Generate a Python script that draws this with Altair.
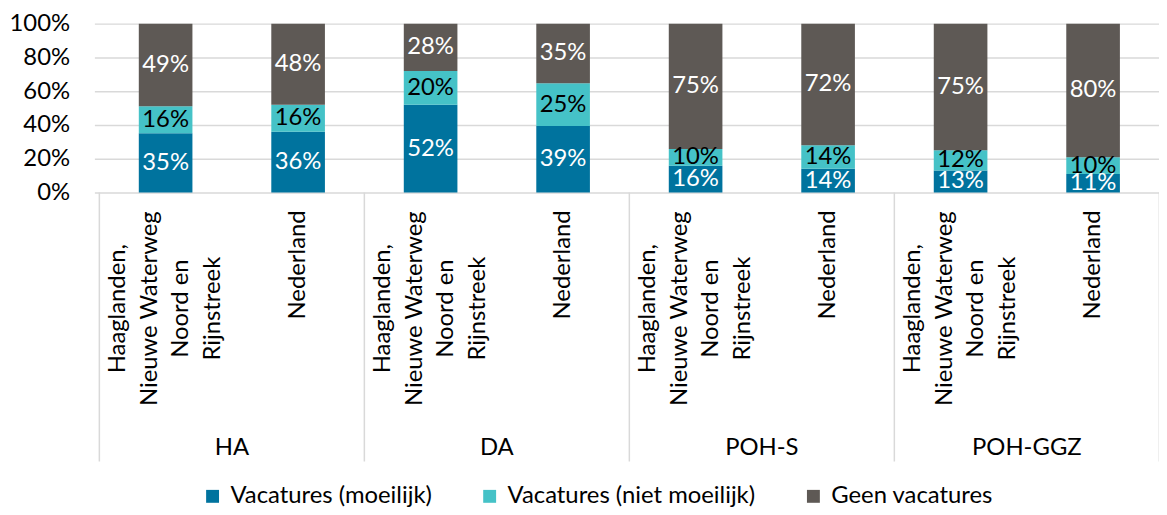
import altair as alt
import pandas as pd

# ---- data ----
groups = ["HA", "DA", "POH-S", "POH-GGZ"]
regions = ["Haaglanden, Nieuwe Waterweg Noord en Rijnstreek", "Nederland"]
region_tick_labels = ["Haaglanden,\nNieuwe Waterweg\nNoord en\nRijnstreek", "Nederland"]
series = ["Vacatures (moeilijk)", "Vacatures (niet moeilijk)", "Geen vacatures"]
moeilijk = [35, 36, 52, 39, 16, 14, 13, 11]
niet_moeilijk = [16, 16, 20, 25, 10, 14, 12, 10]
geen = [49, 48, 28, 35, 75, 72, 75, 80]
y_ticks = [0, 0.2, 0.4, 0.6, 0.8, 1]
colors = ["#00739E", "#45C2C7", "#5E5955"]

rows = []
for i in range(len(moeilijk)):
    for k, vals in enumerate([moeilijk, niet_moeilijk, geen]):
        rows.append({
            "idx": i, "pos": i + 0.5, "group": groups[i // 2],
            "region": regions[i % 2], "series": series[k], "order": k,
            "value": vals[i],
        })
df = pd.DataFrame(rows)

labels_df = pd.DataFrame([
    {"pos": i + 0.5, "region_idx": i % 2, "label": region_tick_labels[i % 2]}
    for i in range(len(moeilijk))
])
groups_df = pd.DataFrame({"group": groups, "center": [2 * g + 1 for g in range(len(groups))]})
sep_df = pd.DataFrame({"edge": [0, 2, 4, 6, 8]})

FONT = "Lato"
FS = 24
LH = 32
xscale = alt.Scale(domain=[0, 7.96], nice=False, zero=False)
yscale = alt.Scale(domain=[0, 1], nice=False)
yaxis = alt.Axis(values=y_ticks, format="%", title=None,
                 labelFontSize=FS, labelFont=FONT, labelColor="#000000",
                 labelPadding=25, labelOverlap=False, labelFlush=False,
                 ticks=False, domain=False, grid=True,
                 gridColor="#D9D9D9", gridWidth=1.5)

base = (
    alt.Chart(df)
    .transform_joinaggregate(total="sum(value)", groupby=["idx"])
    .transform_calculate(frac="datum.value / datum.total")
    .transform_stack(stack="frac", groupby=["idx"], as_=["y0", "y1"],
                     sort=[alt.SortField("order", order="ascending")])
    .transform_calculate(mid="(datum.y0 + datum.y1) / 2", txt="datum.value + '%'")
)

bars = base.mark_bar(size=54).encode(
    x=alt.X("pos:Q", scale=xscale, axis=None),
    y=alt.Y("y0:Q", scale=yscale, axis=yaxis),
    y2="y1:Q",
    color=alt.Color("series:N", scale=alt.Scale(domain=series, range=colors),
                    legend=alt.Legend(title=None, orient="none", legendX=107, legendY=464,
                                      direction="horizontal", symbolType="square",
                                      symbolSize=169, symbolStrokeWidth=0,
                                      labelFontSize=FS, labelFont=FONT, labelColor="#000000",
                                      columnPadding=46, labelOffset=6, labelLimit=400)),
)

bar_text = base.mark_text(fontSize=FS, font=FONT, baseline="middle", align="center").encode(
    x=alt.X("pos:Q", scale=xscale, axis=None),
    y=alt.Y("mid:Q", scale=yscale, axis=yaxis),
    text="txt:N",
    color=alt.condition("datum.series == 'Vacatures (niet moeilijk)'",
                        alt.value("#000000"), alt.value("#FFFFFF")),
)

region_text = (
    alt.Chart(labels_df).transform_filter("datum.region_idx == 0")
    .mark_text(angle=270, align="center", baseline="middle", lineBreak="\n",
               lineHeight=LH, dy=-1.5 * LH, fontSize=FS, font=FONT, color="#000000")
    .encode(x=alt.X("pos:Q", scale=xscale, axis=None), y=alt.value(287), text="label:N")
)

ned_text = (
    alt.Chart(labels_df).transform_filter("datum.region_idx == 1")
    .mark_text(angle=270, align="center", baseline="middle",
               fontSize=FS, font=FONT, color="#000000")
    .encode(x=alt.X("pos:Q", scale=xscale, axis=None), y=alt.value(243), text="label:N")
)

group_text = (
    alt.Chart(groups_df)
    .mark_text(align="center", baseline="middle", fontSize=FS, font=FONT, color="#000000")
    .encode(x=alt.X("center:Q", scale=xscale, axis=None), y=alt.value(427), text="group:N")
)

seps = (
    alt.Chart(sep_df)
    .mark_rule(color="#D9D9D9", strokeWidth=1.5)
    .encode(x=alt.X("edge:Q", scale=xscale, axis=None), y=alt.value(170), y2=alt.value(441))
)

chart = (
    alt.layer(bars, bar_text, region_text, ned_text, group_text, seps)
    .properties(width=1072, height=170,
                autosize=alt.AutoSizeParams(type="none"),
                padding={"left": 87, "top": 14, "right": 0, "bottom": 315})
    .configure_view(stroke=None)
)

chart.save("out.html", embed_options={"renderer": "svg", "actions": False})
